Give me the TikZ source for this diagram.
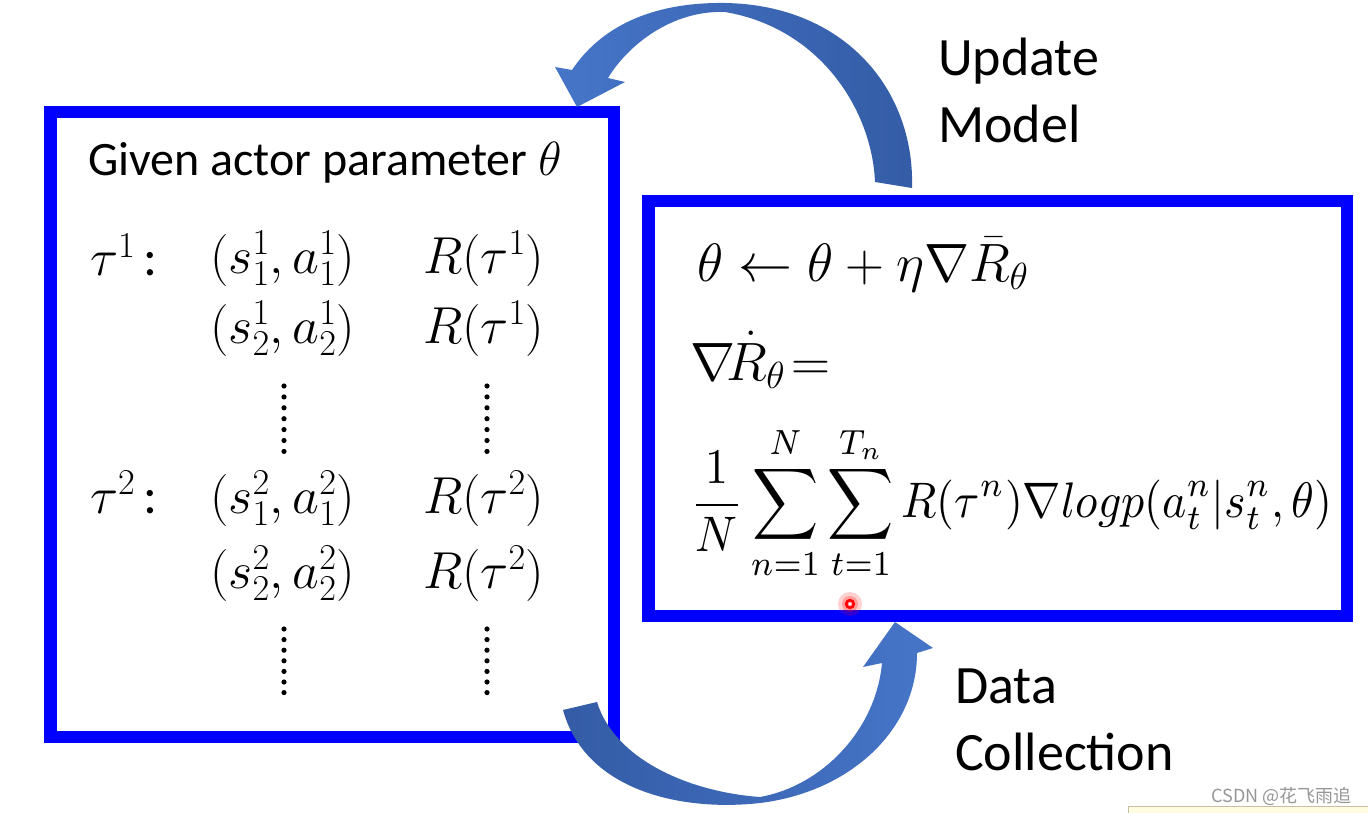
\RequirePackage{fix-cm}
\documentclass[tikz,border=0pt]{standalone}
\usepackage{fontspec}
\setmainfont{Carlito}
\newfontfamily\cjkfont{Noto Sans CJK SC}
\usepackage{graphicx}
\definecolor{boxblue}{RGB}{0,0,255}
\definecolor{arrowlight}{RGB}{70,117,200}
\definecolor{arrowdark}{RGB}{52,92,166}
\definecolor{wmgray}{RGB}{150,150,150}
\definecolor{stripfill}{RGB}{255,252,225}
\definecolor{stripline}{RGB}{200,190,160}
\tikzset{
  framebox/.style={draw=boxblue, line width=12.5pt},
  lbl/.style={anchor=base west, inner sep=0pt, font=\fontsize{54}{64}\selectfont},
  mathL/.style={anchor=base west, inner sep=0pt, font=\fontsize{52}{62}\selectfont},
  mathR/.style={anchor=base west, inner sep=0pt, font=\fontsize{54}{64}\selectfont},
  dotty/.style={fill=black},
}
\begin{document}
\begin{tikzpicture}[x=1pt,y=-1pt]
\useasboundingbox (0,0) rectangle (1368,813);
\fill[white] (0,0) rectangle (1368,813);
% frames
\draw[framebox] (50.25,112.25) rectangle (613.75,736.75);
\draw[framebox] (648.25,201.25) rectangle (1346.75,615.75);
% left box content
\node[anchor=base west, inner sep=0pt, font=\fontsize{48}{58}\selectfont] (given) at (88,176) {Given actor parameter $\theta$};
\node[mathL] (t1) at (90,276) {$\tau^1$\,:};
\node[mathL] (p11) at (210,273) {$(s_1^1,a_1^1)$};
\node[mathL] (r11) at (423,273) {$R(\tau^1)$};
\node[mathL] (p12) at (210,343) {$(s_2^1,a_2^1)$};
\node[mathL] (r12) at (423,343) {$R(\tau^1)$};
\node[mathL] (t2) at (90,513) {$\tau^2$\,:};
\node[mathL] (p21) at (210,513) {$(s_1^2,a_1^2)$};
\node[mathL] (r21) at (423,513) {$R(\tau^2)$};
\node[mathL] (p22) at (210,588) {$(s_2^2,a_2^2)$};
\node[mathL] (r22) at (423,588) {$R(\tau^2)$};
\foreach \x in {284,487}{
  \foreach \i in {0,...,6}{
    \fill[dotty] (\x,{386+\i*10.9}) circle (2.6);
    \fill[dotty] (\x,{629+\i*10.6}) circle (2.6);
  }
}
% right box content
\node[mathR] (upd) at (697,281) {$\theta \leftarrow \theta + \eta\nabla\bar{R}_\theta$};
\node[mathR] (grad) at (690,380) {$\nabla\!\dot{R}_\theta \!=$};
\node[anchor=west, inner sep=0pt] (sum) at (690,503) {\resizebox*{642pt}{155pt}{$\displaystyle \frac{1}{N}\sum_{n=1}^{N}\sum_{t=1}^{T_n} R(\tau^n)\nabla logp(a_t^n|s_t^n,\theta)$}};
% labels
\node[lbl] (um1) at (938,76) {Update};
\node[lbl] (um2) at (938,143) {Model};
\node[lbl] (dc1) at (955,703) {Data};
\node[lbl] (dc2) at (955,770) {Collection};
% top curved arrow (Update Model)
\shade[left color=arrowlight, right color=arrowdark]
  (875,182) .. controls (872,110) and (820,28) .. (725,12)
  .. controls (672,10) and (628,45) .. (608,78)
  -- (625,82) -- (577,107) -- (555,67) -- (572,70)
  .. controls (600,28) and (650,2) .. (725,3)
  .. controls (845,5) and (915,90) .. (912,188) -- cycle;
% bottom curved arrow (Data Collection)
\shade[left color=arrowdark, right color=arrowlight]
  (563,710) .. controls (585,790) and (680,812) .. (760,803)
  .. controls (850,792) and (917,730) .. (917,653)
  -- (933,648) -- (895,622) -- (863,667) -- (882,663)
  .. controls (876,730) and (822,786) .. (760,797)
  .. controls (690,792) and (615,760) .. (597,702) -- cycle;
% laser pointer dot
\fill[red, opacity=0.18] (850,604) circle (12);
\fill[red, opacity=0.25] (850,604) circle (8);
\draw[red, line width=2.6pt] (850,604) circle (3.8);
\fill[white] (850,604) circle (1.6);
% watermark strip
\fill[stripfill] (1128,806) rectangle (1368,813);
\draw[stripline, line width=1pt] (1128,813) -- (1128,806.5) -- (1368,806.5);
\node[anchor=base east, inner sep=0pt, text=wmgray, font=\cjkfont\fontsize{18}{18}\selectfont] (wm) at (1352,802) {CSDN @花飞雨追};
\end{tikzpicture}
\end{document}
